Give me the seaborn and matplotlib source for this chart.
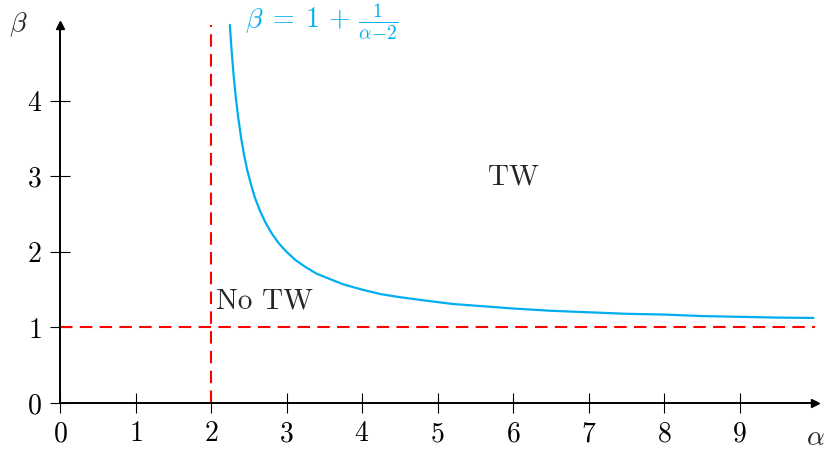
import matplotlib
matplotlib.use("Agg")
import matplotlib.pyplot as plt
import seaborn as sns

# values
alpha = [2.25, 2.27, 2.3, 2.33, 2.36, 2.4, 2.44, 2.48, 2.53, 2.58, 2.65, 2.72,
         2.8, 2.9, 3.0, 3.12, 3.25, 3.4, 3.55, 3.75, 4.0, 4.25, 4.5, 4.8, 5.2,
         5.6, 6.0, 6.5, 7.0, 7.5, 8.0, 8.5, 9.0, 9.5, 9.98]
beta = [5.0, 4.70, 4.33, 4.03, 3.78, 3.5, 3.27, 3.08, 2.89, 2.72, 2.54, 2.39,
        2.25, 2.11, 2.0, 1.89, 1.8, 1.71, 1.65, 1.57, 1.5, 1.44, 1.4, 1.36, 1.31,
        1.28, 1.25, 1.22, 1.2, 1.18, 1.17, 1.15, 1.14, 1.13, 1.125]
x_ticks = [0, 1, 2, 3, 4, 5, 6, 7, 8, 9]
y_ticks = [0, 1, 2, 3, 4]
alpha_crit = 2
beta_crit = 1

sns.set_style("white")
plt.rcParams["font.family"] = ["cmr10", "DejaVu Serif"]
plt.rcParams["mathtext.fontset"] = "cm"
plt.rcParams["axes.formatter.use_mathtext"] = True

fig = plt.figure(figsize=(8.24, 4.5), dpi=100)
ax = fig.add_axes([60 / 824, 47 / 450, 755 / 824, 378 / 450])

cyan = "#00AEEF"
sns.lineplot(x=alpha, y=beta, ax=ax, color=cyan, lw=1.6, clip_on=False)
ax.axvline(alpha_crit, color="red", lw=1.5, ls=(0, (6, 3.5)), clip_on=False)
ax.axhline(beta_crit, color="red", lw=1.5, ls=(0, (6, 3.5)), clip_on=False)

ax.set_xlim(0, 10)
ax.set_ylim(0, 5)
ax.set_xticks(x_ticks)
ax.set_yticks(y_ticks)
ax.tick_params(bottom=True, left=True, direction="inout", length=14, width=0.8,
               labelsize=20, pad=6, color="black", labelcolor="black")

for s in ["top", "right"]:
    ax.spines[s].set_visible(False)
for s in ["left", "bottom"]:
    ax.spines[s].set_color("black")
    ax.spines[s].set_linewidth(1.4)

# arrow heads
ax.plot(1, 0, ">k", ms=6, transform=ax.get_yaxis_transform(), clip_on=False)
ax.plot(0, 1, "^k", ms=6, transform=ax.get_xaxis_transform(), clip_on=False)

ax.text(10.0, -0.46, r"$\alpha$", fontsize=20, ha="center", va="center")
ax.text(-0.55, 5.0, r"$\beta$", fontsize=20, ha="center", va="center")

ax.text(2.45, 5.05, r"$\beta\;=\;1\,+\,\frac{1}{\alpha{-}2}$", color=cyan,
        fontsize=20, ha="left", va="center")
ax.text(2.07, 1.34, "No TW", fontsize=21, ha="left", va="center")
ax.text(6.0, 2.98, "TW", fontsize=21, ha="center", va="center")

fig.savefig("out.png", dpi=100)
